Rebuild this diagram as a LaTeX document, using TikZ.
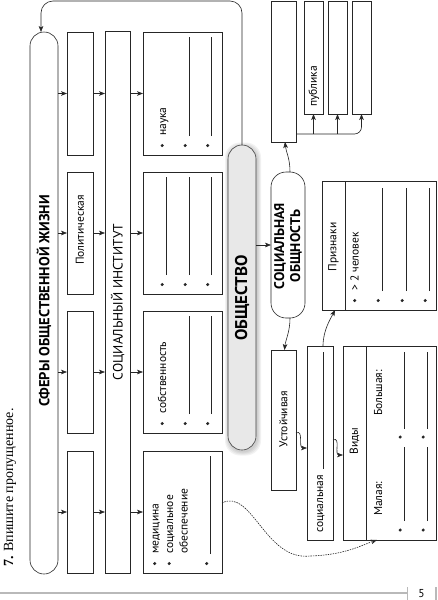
\documentclass[tikz,border=0pt]{standalone}
\usepackage{fontspec}
\setmainfont{Liberation Serif}
\newfontfamily\sans{PT Sans}
\usetikzlibrary{arrows.meta,calc}
\newcommand\bdot[2]{\fill[black!85] (#1-3.8,#2) circle (1.7pt);}
\newcommand\brow[4]{\fill[black!85] (#1-3.8,#2) circle (1.7pt); \draw[ln] (#1,#3) -- (#1,#4);}
\begin{document}
\begin{tikzpicture}[x=1pt,y=-1pt,
  ln/.style={draw=black!85, line width=0.6pt},
  bx/.style={draw=black!85, line width=0.6pt, inner sep=0pt, outer sep=0pt},
  arr/.style={draw=black!85, line width=0.6pt, -{Stealth[length=6pt,width=4.6pt,inset=1.5pt]}},
  sm/.style={font=\sans\fontsize{11.5}{14.5}\selectfont, rotate=90, inner sep=0pt},
  bigb/.style={font=\sans\bfseries\fontsize{14.5}{17}\selectfont, rotate=90, inner sep=0pt}
]
\useasboundingbox (0,0) rectangle (437,600);

% instruction and footer
\node[rotate=90, anchor=base west, font=\fontsize{14}{16}\selectfont, inner sep=0pt] (instr) at (13,567) {\textbf{7.} Впишите пропущенное.};
\draw[gray!55, line width=1.2pt] (0,593) -- (407,593);
\draw[gray!55, line width=1.2pt] (407.5,587) -- (407.5,600);
\draw[gray!55, line width=1.2pt] (436,587) -- (436,600);
\node[font=\sans\fontsize{11.5}{12}\selectfont] (pnum) at (421.5,594) {5};

% spheres
\node[bx, rounded corners=14pt, minimum width=28, minimum height=542] (sfery) at (44,303) {};
\node[bigb] (tsfery) at (44,301) {СФЕРЫ ОБЩЕСТВЕННОЙ ЖИЗНИ};

% column a
\node[bx, minimum width=26, minimum height=123] (a1) at (80,93.5) {};
\node[bx, minimum width=26, minimum height=122] (a2) at (80,233) {};
\node[bx, minimum width=26, minimum height=122] (a3) at (80,372) {};
\node[bx, minimum width=26, minimum height=122] (a4) at (80,512) {};
\node[sm] (tpol) at (80,230) {Политическая};

% institute
\node[bx, minimum width=25, minimum height=542] (inst) at (117.5,302) {};
\node[sm, font=\sans\fontsize{13.5}{16}\selectfont] (tinst) at (117.5,302) {СОЦИАЛЬНЫЙ ИНСТИТУТ};

% column b
\node[bx, minimum width=79, minimum height=123] (b1) at (182.5,93.5) {};
\node[bx, minimum width=79, minimum height=122] (b2) at (182.5,233) {};
\node[bx, minimum width=79, minimum height=122] (b3) at (182.5,372) {};
\node[bx, minimum width=79, minimum height=122] (b4) at (182.5,512) {};

\foreach \k in {1,2,3,4}{
  \draw[arr] (sfery.east |- a\k) -- (a\k.west);
  \draw[arr] (a\k.east) -- (inst.west |- a\k);
  \draw[arr] (inst.east |- b\k) -- (b\k.west);
}

% b1
\bdot{166}{145.5}
\node[sm, anchor=base west] (tnauka) at (166,136) {наука};
\brow{189}{145.5}{136}{37}
\brow{211.5}{145.5}{136}{37}
% b2
\brow{166}{284.5}{275}{177}
\brow{189}{284.5}{275}{177}
\brow{211.5}{284.5}{275}{177}
% b3
\bdot{166}{423.5}
\node[sm, anchor=base west] (tsobst) at (166,414) {собственность};
\brow{189}{423.5}{414}{316}
\brow{211.5}{423.5}{414}{316}
% b4
\bdot{158.5}{563.5}
\node[sm, anchor=base west] (tmed) at (158.5,554) {медицина};
\bdot{173}{563.5}
\node[sm, anchor=base west] (tsocob) at (173,554) {социальное};
\node[sm, anchor=base west] (tobesp) at (187.5,554) {обеспечение};
\brow{210.5}{563.5}{554}{456}

% society
\foreach \i in {1,...,4}{
  \fill[black, opacity=0.05, rounded corners=15pt] (228-\i+1,145-\i+1.5) rectangle (256+\i+1,450+\i+1.5);
}
\node[bx, rounded corners=14pt, fill=gray!18, draw=black!75, minimum width=28, minimum height=305] (obsh) at (242,297.5) {};
\node[sm, font=\sans\bfseries\fontsize{17}{20}\selectfont] (tobsh) at (242,298) {ОБЩЕСТВО};

\coordinate (topL) at (41,1);
\draw[arr, rounded corners=12pt] (obsh.north) |- (topL) -- (topL |- sfery.north);

% social community
\node[bx, rounded corners=15pt, minimum width=34, minimum height=146] (so) at (288,245) {};
\node[sm, font=\sans\bfseries\fontsize{14}{16}\selectfont, align=center] (tso) at (288,246) {СОЦИАЛЬНАЯ\\ОБЩНОСТЬ};
\draw[arr] (obsh.east |- so) -- (so.west);

% top right
\node[bx, minimum width=25, minimum height=141] (t0) at (283.5,71.5) {};
\node[bx, minimum width=19, minimum height=113] (t1) at (313.5,57.5) {};
\node[bx, minimum width=19, minimum height=113] (t2) at (337.5,57.5) {};
\node[bx, minimum width=19, minimum height=113] (t3) at (361.5,57.5) {};
\node[sm, anchor=west] (tpub) at (314,107) {публика};
\coordinate (hub) at (296,134);
\draw[arr, rounded corners=7pt] (hub) -| (t3.south);
\draw[arr] (hub -| t1.south) -- (t1.south);
\draw[arr] (hub -| t2.south) -- (t2.south);
\draw[arr] ([xshift=2pt]so.north) .. controls +(0,-14) and +(1,10) .. ([xshift=1.5pt]t0.south);

% signs
\node[bx, minimum width=114, minimum height=129] (priz) at (379,245.5) {};
\draw[ln] ($(priz.north west)+(23,0)$) -- ($(priz.south west)+(23,0)$);
\node[sm] (tpriz) at (333.5,247) {Признаки};
\bdot{358.5}{300.5}
\node[sm, anchor=base west] (tchel) at (358.5,291) {> 2 человек};
\brow{382}{300.5}{291}{188}
\brow{406}{300.5}{291}{188}
\brow{429}{300.5}{291}{188}

% bottom right
\node[bx, minimum width=25, minimum height=140] (ust) at (283.5,420) {};
\node[sm] (tust) at (283.5,419) {Устойчивая};
\draw[arr] ([xshift=2pt]so.south) .. controls +(0,14) and +(1,-10) .. ([xshift=1pt]ust.north);

\node[bx, minimum width=26, minimum height=194] (soc) at (320,443) {};
\node[sm, anchor=base west] (tsoc) at (323,533) {социальная};
\draw[ln] (323,469) -- (323,352);
\draw[arr] ([xshift=3pt]soc.north) .. controls +(0,-16) and +(-4,8) .. ($(priz.south west)+(13,0)$);

\node[bx, minimum width=93, minimum height=194] (vidy) at (389.5,443) {};
\draw[ln] ($(vidy.north west)+(23,0)$) -- ($(vidy.south west)+(23,0)$);
\node[sm] (tvidy) at (354.5,441) {Виды};
\node[sm, anchor=base west] (tmal) at (382,516) {Малая:};
\node[sm, anchor=base west] (tbol) at (382,416) {Большая:};
\brow{404}{530}{521}{447}
\brow{427}{530}{521}{447}
\brow{404}{437}{429}{352}
\brow{427}{437}{429}{352}

\draw[arr] ($(ust.east)+(0,13)$) .. controls +(8,-4) and +(-9,0) .. ($(soc.west)+(0,5)$);
\draw[arr] ($(soc.east)+(0,-3)$) .. controls +(8,-4) and +(-9,0) .. ($(vidy.west)+(0,12)$);

\coordinate (dmid) at (310,556);
\draw[arr, dash pattern=on 1.5pt off 1pt] ($(b4.east)+(0,-9)$) .. controls +(30,-15) and +(-45,5) .. (dmid) .. controls +(35,-1) and +(-15,5) .. ($(vidy.south west)+(34,0)$);
\end{tikzpicture}
\end{document}
